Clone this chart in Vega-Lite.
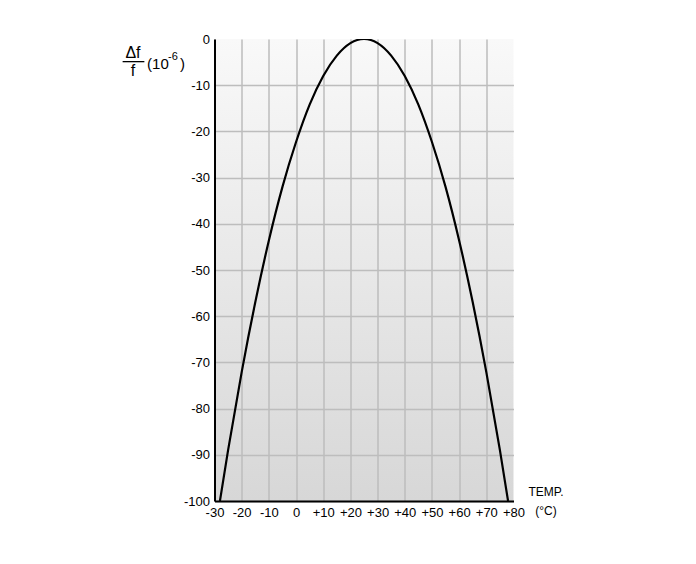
{
  "$schema": "https://vega.github.io/schema/vega-lite/v6.json",
  "width": 299,
  "height": 462,
  "autosize": "none",
  "padding": {"left": 214.5, "top": 39, "right": 182.5, "bottom": 63},
  "background": "white",
  "config": {
    "font": "Liberation Sans",
    "view": {
      "stroke": null,
      "fill": {"gradient": "linear", "x1": 0, "y1": 0, "x2": 0, "y2": 1,
        "stops": [{"offset": 0, "color": "#f9f9f9"}, {"offset": 1, "color": "#d7d7d7"}]}
    },
    "axis": {
      "domainColor": "black",
      "domainWidth": 2,
      "ticks": false,
      "labelColor": "black",
      "labelFontSize": 13,
      "labelOverlap": false,
      "labelFlush": false,
      "gridColor": "#bdbdbd",
      "gridWidth": 1.5
    }
  },
  "layer": [
    {
      "data": {"values": [
        {"temp": -28, "df": -100},
        {"temp": -25, "df": -89.0},
        {"temp": -20, "df": -72.1},
        {"temp": -15, "df": -57.0},
        {"temp": -10, "df": -43.6},
        {"temp": -5, "df": -32.0},
        {"temp": 0, "df": -22.3},
        {"temp": 5, "df": -14.2},
        {"temp": 10, "df": -8.0},
        {"temp": 15, "df": -3.6},
        {"temp": 20, "df": -0.9},
        {"temp": 25, "df": 0},
        {"temp": 30, "df": -0.9},
        {"temp": 35, "df": -3.6},
        {"temp": 40, "df": -8.0},
        {"temp": 45, "df": -14.2},
        {"temp": 50, "df": -22.3},
        {"temp": 55, "df": -32.0},
        {"temp": 60, "df": -43.6},
        {"temp": 65, "df": -57.0},
        {"temp": 70, "df": -72.1},
        {"temp": 75, "df": -89.0},
        {"temp": 78, "df": -100}
      ]},
      "mark": {"type": "line", "color": "black", "strokeWidth": 2.2, "interpolate": "monotone", "clip": true},
      "encoding": {
        "x": {
          "field": "temp", "type": "quantitative",
          "scale": {"domain": [-30, 80], "nice": false, "zero": false},
          "axis": {
            "values": [-30, -20, -10, 0, 10, 20, 30, 40, 50, 60, 70, 80],
            "tickCount": 30,
            "labelExpr": "datum.value > 0 ? '+' + datum.value : '' + datum.value",
            "labelPadding": 5,
            "labelFlush": false,
            "gridOpacity": {"condition": {"test": "datum.value == 80", "value": 0}, "value": 1},
            "title": ["TEMP.", "(°C)"],
            "titleFontSize": 12,
            "titleFontWeight": "normal",
            "titleColor": "black",
            "titleLineHeight": 19,
            "titleAnchor": null,
            "titleAlign": "center",
            "titleBaseline": "top",
            "titleX": 331,
            "titleY": -15
          }
        },
        "y": {
          "field": "df", "type": "quantitative",
          "scale": {"domain": [-100, 0], "nice": false},
          "axis": {
            "values": [-100, -90, -80, -70, -60, -50, -40, -30, -20, -10, 0],
            "tickCount": 30,
            "labelExpr": "'' + datum.value",
            "labelPadding": 5,
            "gridOpacity": {"condition": {"test": "datum.value == 0", "value": 0}, "value": 1},
            "title": null
          }
        }
      }
    },
    {
      "data": {"values": [{}]},
      "mark": {"type": "text", "text": "Δf", "fontSize": 16, "align": "center", "baseline": "middle", "color": "black"},
      "encoding": {"x": {"datum": -60, "type": "quantitative"}, "y": {"datum": -3.0, "type": "quantitative"}}
    },
    {
      "data": {"values": [{}]},
      "mark": {"type": "rule", "color": "black", "strokeWidth": 1.3},
      "encoding": {"x": {"datum": -63.8, "type": "quantitative"}, "x2": {"datum": -55.8}, "y": {"datum": -4.9, "type": "quantitative"}}
    },
    {
      "data": {"values": [{}]},
      "mark": {"type": "text", "text": "f", "fontSize": 16, "align": "center", "baseline": "middle", "color": "black"},
      "encoding": {"x": {"datum": -60, "type": "quantitative"}, "y": {"datum": -6.9, "type": "quantitative"}}
    },
    {
      "data": {"values": [{}]},
      "mark": {"type": "text", "text": "(10", "fontSize": 15, "align": "left", "baseline": "middle", "color": "black"},
      "encoding": {"x": {"datum": -54.8, "type": "quantitative"}, "y": {"datum": -5.4, "type": "quantitative"}}
    },
    {
      "data": {"values": [{}]},
      "mark": {"type": "text", "text": "-6", "fontSize": 11, "align": "left", "baseline": "middle", "color": "black"},
      "encoding": {"x": {"datum": -47.1, "type": "quantitative"}, "y": {"datum": -4.0, "type": "quantitative"}}
    },
    {
      "data": {"values": [{}]},
      "mark": {"type": "text", "text": ")", "fontSize": 15, "align": "left", "baseline": "middle", "color": "black"},
      "encoding": {"x": {"datum": -42.7, "type": "quantitative"}, "y": {"datum": -5.4, "type": "quantitative"}}
    }
  ]
}
